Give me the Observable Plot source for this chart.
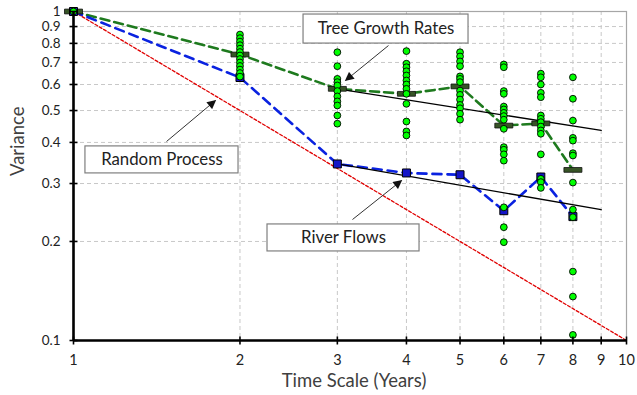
<!DOCTYPE html>
<html><head><meta charset="utf-8">
<script src="https://cdn.jsdelivr.net/npm/d3@7"></script>
<script src="https://cdn.jsdelivr.net/npm/@observablehq/plot@0.6"></script>
<style>body{margin:0;background:#fff} #chart svg{display:block}</style>
</head><body><div id="chart"></div>
<script>
// ---- data ----
const timeScales = [1, 2, 3, 4, 5, 6, 7, 8];
const treeMean = [1, 0.74, 0.582, 0.562, 0.592, 0.45, 0.457, 0.33];
const riverVariance = [1, 0.63, 0.344, 0.323, 0.319, 0.248, 0.314, 0.238];

const tree1 = [1];
const tree2 = [0.851, 0.830, 0.810, 0.790, 0.771, 0.753, 0.735, 0.717, 0.700, 0.683, 0.666, 0.650, 0.634];
const tree3 = [0.752, 0.682, 0.624, 0.610, 0.596, 0.573, 0.552, 0.533, 0.518, 0.483, 0.456];
const tree4 = [0.758, 0.694, 0.677, 0.658, 0.639, 0.617, 0.600, 0.582, 0.562, 0.524, 0.463, 0.432, 0.420];
const tree5 = [0.752, 0.730, 0.705, 0.682, 0.635, 0.624, 0.610, 0.575, 0.558, 0.540, 0.520, 0.508, 0.489, 0.469];
const tree6 = [0.690, 0.677, 0.573, 0.562, 0.514, 0.504, 0.492, 0.481, 0.469, 0.440, 0.387, 0.380, 0.368, 0.352, 0.254, 0.221, 0.199];
const tree7 = [0.647, 0.631, 0.600, 0.566, 0.549, 0.483, 0.472, 0.461, 0.447, 0.435, 0.425, 0.368, 0.310, 0.303, 0.291];
const tree8 = [0.631, 0.543, 0.466, 0.413, 0.405, 0.371, 0.365, 0.302, 0.250, 0.237, 0.162, 0.136, 0.104];

const randomX = [1, 10];
const randomY = [1, 0.1];

const fitX = [3, 9];
const treeFit = [0.582, 0.435];
const riverFit = [0.344, 0.250];

const xTicks = [1, 2, 3, 4, 5, 6, 7, 8, 9, 10];
const xTickLabels = ["1", "2", "3", "4", "5", "6", "7", "8", "9", "10"];
const yTicks = [0.1, 0.2, 0.3, 0.4, 0.5, 0.6, 0.7, 0.8, 0.9, 1];
const yTickLabels = ["0.1", "0.2", "0.3", "0.4", "0.5", "0.6", "0.7", "0.8", "0.9", "1"];

const xTitle = "Time Scale (Years)";
const yTitle = "Variance";

// annotations (data coordinates)
const annLabels = ["Tree Growth Rates", "Random Process", "River Flows"];
const annX = [3.674, 1.445, 3.078];
const annY = [0.885, 0.354, 0.205];
const annBoxX1 = [2.606, 1.051, 2.243];
const annBoxX2 = [5.18, 1.988, 4.224];
const annBoxY1 = [0.979, 0.389, 0.2253];
const annBoxY2 = [0.799, 0.322, 0.1865];
const annFromX = [3.712, 1.473, 3.195];
const annFromY = [0.788, 0.4026, 0.2332];
const annToX = [3.104, 1.806, 3.919];
const annToY = [0.617, 0.5364, 0.3064];

// ---- tables ----
const meanTable = timeScales.map((t, i) => ({t, tree: treeMean[i], river: riverVariance[i]}));
const treeGroups = [tree1, tree2, tree3, tree4, tree5, tree6, tree7, tree8];
const dotsTable = treeGroups.flatMap((g, i) => g.map(v => ({t: timeScales[i], v})));
const randomTable = randomX.map((x, i) => ({x, y: randomY[i]}));
const treeFitTable = fitX.map((x, i) => ({x, y: treeFit[i]}));
const riverFitTable = fitX.map((x, i) => ({x, y: riverFit[i]}));
const annTable = annLabels.map((label, i) => ({
  label, x: annX[i], y: annY[i],
  x1: annBoxX1[i], x2: annBoxX2[i], y1: annBoxY1[i], y2: annBoxY2[i],
  fx: annFromX[i], fy: annFromY[i], tx: annToX[i], ty: annToY[i]
}));

// symbols
const barSymbol = {draw(ctx) { ctx.moveTo(-9, -2.4); ctx.lineTo(9, -2.4); ctx.lineTo(9, 2.4); ctx.lineTo(-9, 2.4); ctx.closePath(); }};
const vTick = {draw(ctx) { ctx.moveTo(0, -4); ctx.lineTo(0, 4); }};
const hTick = {draw(ctx) { ctx.moveTo(-4, 0); ctx.lineTo(4, 0); }};

const font = "Lato, 'Open Sans', sans-serif";

const chart = Plot.plot({
  width: 637, height: 395,
  marginLeft: 73, marginRight: 11, marginTop: 11, marginBottom: 55,
  x: {type: "log", domain: [1, 10], axis: null},
  y: {type: "log", domain: [0.1, 1], axis: null},
  style: {fontFamily: font, background: "white", overflow: "visible"},
  marks: [
    Plot.ruleX(xTicks.slice(1, 9), {x: d => d, stroke: "#c8c8c8", strokeDasharray: "4,3", strokeWidth: 1}),
    Plot.ruleY(yTicks.slice(1, 9), {y: d => d, stroke: "#c8c8c8", strokeDasharray: "4,3", strokeWidth: 1}),
    Plot.frame({stroke: "#a6a6a6", strokeWidth: 1.2}),
    Plot.line(randomTable, {x: "x", y: "y", stroke: "#e00000", strokeWidth: 1.3, strokeDasharray: "3,2"}),
    Plot.line(meanTable, {x: "t", y: "tree", stroke: "#1e7a1e", strokeWidth: 2.6, strokeDasharray: "9,5"}),
    Plot.line(meanTable, {x: "t", y: "river", stroke: "#0a22e0", strokeWidth: 2.6, strokeDasharray: "9,6"}),
    Plot.line(treeFitTable, {x: "x", y: "y", stroke: "black", strokeWidth: 1.3}),
    Plot.line(riverFitTable, {x: "x", y: "y", stroke: "black", strokeWidth: 1.3}),
    Plot.dot(meanTable, {x: "t", y: "tree", symbol: barSymbol, r: 5, fill: "#375426", stroke: "#111", strokeWidth: 0.8}),
    Plot.dot(meanTable, {x: "t", y: "river", symbol: "square", r: 4.5, fill: "#1414c8", stroke: "black", strokeWidth: 1}),
    Plot.dot(dotsTable, {x: "t", y: "v", r: 3.4, fill: "#00ff00", stroke: "black", strokeWidth: 0.9}),
    Plot.ruleX([1], {x: d => d, stroke: "black", strokeWidth: 2.6}),
    Plot.ruleY([0.1], {y: d => d, stroke: "black", strokeWidth: 2.6}),
    Plot.dot(xTicks, {x: d => d, y: () => 0.1, symbol: vTick, stroke: "black", strokeWidth: 1.6, fill: "none"}),
    Plot.dot(yTicks, {x: () => 1, y: d => d, symbol: hTick, stroke: "black", strokeWidth: 1.6, fill: "none"}),
    Plot.text(xTicks, {x: d => d, y: () => 0.1, text: (d, i) => xTickLabels[i], dy: 20, fontSize: 14.5, fill: "#222"}),
    Plot.text(yTicks, {x: () => 1, y: d => d, text: (d, i) => yTickLabels[i], dx: -13, textAnchor: "end", fontSize: 13.5, fill: "#222"}),
    Plot.text([xTitle], {text: d => d, frameAnchor: "bottom", dy: 46, dx: 4, fontSize: 18.5, fill: "#404040"}),
    Plot.text([yTitle], {text: d => d, frameAnchor: "left", dx: -55, rotate: -90, fontSize: 18.5, fill: "#404040"}),
    Plot.rect(annTable, {x1: "x1", x2: "x2", y1: "y1", y2: "y2", fill: "white", stroke: "#7f7f7f", strokeWidth: 1.2}),
    Plot.text(annTable, {x: "x", y: "y", text: "label", fontSize: 16.8, fill: "#222"}),
    Plot.link(annTable, {x1: "fx", y1: "fy", x2: "tx", y2: "ty", stroke: "#333", strokeWidth: 1})
  ]
});

document.getElementById("chart").appendChild(chart);

// filled arrowheads for the annotation links
const svg = d3.select(chart);
const defs = svg.append("defs");
defs.append("marker")
  .attr("id", "ahead").attr("viewBox", "0 0 10 10")
  .attr("refX", 9).attr("refY", 5)
  .attr("markerUnits", "userSpaceOnUse")
  .attr("markerWidth", 10).attr("markerHeight", 9)
  .attr("orient", "auto")
  .append("path").attr("d", "M0,0L10,5L0,10z").attr("fill", "#111");
svg.selectAll("g[aria-label='link'] path, g[aria-label='link'] line").attr("marker-end", "url(#ahead)");
</script>
</body></html>
